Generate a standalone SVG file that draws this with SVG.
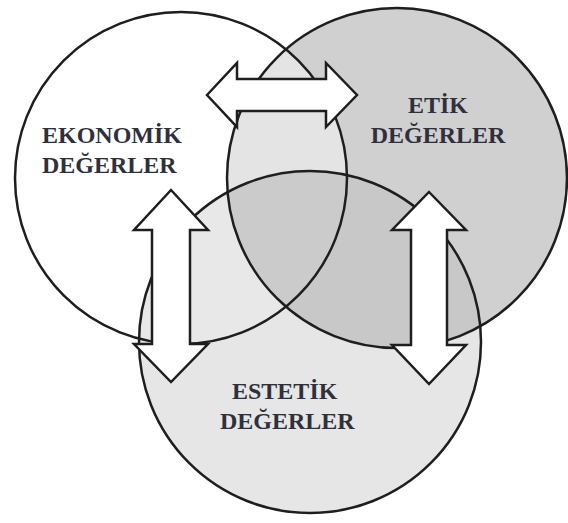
<svg xmlns="http://www.w3.org/2000/svg" width="568" height="523" viewBox="0 0 568 523">
<style>
.ring{fill:none;stroke:#1e1e1e;stroke-width:2.5}
.arrow{fill:#ffffff;stroke:#1e1e1e;stroke-width:2.5;stroke-linejoin:miter}
.lbl{font-family:"Liberation Serif","Times New Roman",serif;font-weight:bold;font-size:24px;fill:#30303c}
</style>
<defs>
<clipPath id="k1"><circle cx="181" cy="178" r="166"/></clipPath>
<clipPath id="k2"><circle cx="397" cy="178" r="170"/></clipPath>
<clipPath id="k3"><circle cx="310" cy="342" r="171"/></clipPath>
</defs>
<rect width="568" height="523" fill="#ffffff"/>
<g id="fills">
<circle cx="181" cy="178" r="166" fill="#ffffff"/>
<circle cx="397" cy="178" r="170" fill="#d0d0d0"/>
<circle cx="310" cy="342" r="171" fill="#e6e6e6"/>
<circle cx="397" cy="178" r="170" fill="#e4e4e4" clip-path="url(#k1)"/>
<circle cx="310" cy="342" r="171" fill="#e8e8e8" clip-path="url(#k1)"/>
<circle cx="310" cy="342" r="171" fill="#c8c8c8" clip-path="url(#k2)"/>
<g clip-path="url(#k1)"><circle cx="310" cy="342" r="171" fill="#cbcbcb" clip-path="url(#k2)"/></g>
</g>
<g id="ekonomik">
<circle class="ring" cx="181" cy="178" r="166"/>
<text class="lbl" x="42" y="143">EKONOMİK</text>
<text class="lbl" x="42" y="173">DEĞERLER</text>
</g>
<g id="etik">
<circle class="ring" cx="397" cy="178" r="170"/>
<text class="lbl" x="438" y="113" text-anchor="middle">ETİK</text>
<text class="lbl" x="438" y="143" text-anchor="middle">DEĞERLER</text>
</g>
<g id="estetik">
<circle class="ring" cx="310" cy="342" r="171"/>
<text class="lbl" x="232" y="399">ESTETİK</text>
<text class="lbl" x="220" y="429">DEĞERLER</text>
</g>
<g id="connectors">
<polygon class="arrow" points="207,95 237,63 237,79 326,79 326,63 357,95 326,127 326,111 237,111 237,127"/>
<polygon class="arrow" points="171,190 208,230 190,230 190,344 208,344 171,382 134,344 152,344 152,230 134,230"/>
<polygon class="arrow" points="429,192 466,230 447,230 447,345 466,345 429,384 392,345 411,345 411,230 392,230"/>
</g>
</svg>
